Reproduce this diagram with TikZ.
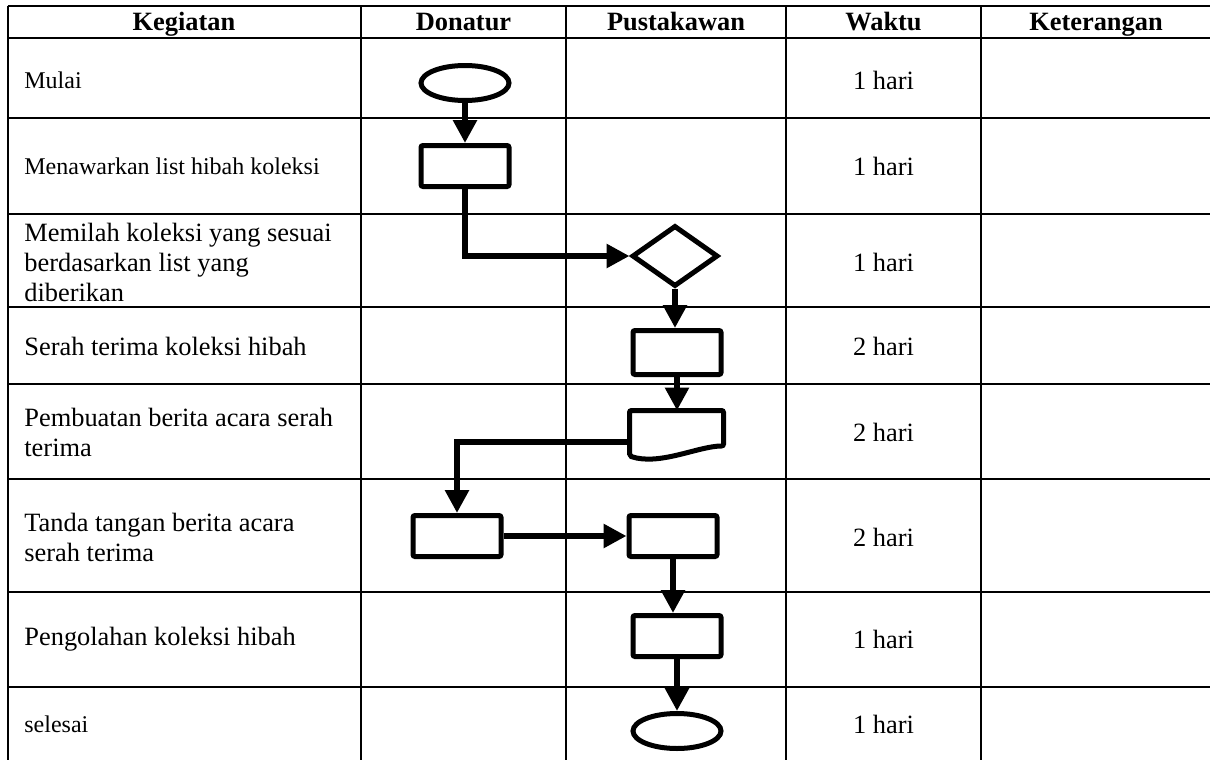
\documentclass[tikz,border=0pt]{standalone}
\usepackage{fontspec}
\setmainfont{Liberation Serif}
\usetikzlibrary{shapes.geometric,arrows.meta}
\newcommand{\hurufbesar}{\fontsize{13.2pt}{15pt}\selectfont}
\newcommand{\hurufkecil}{\fontsize{12pt}{14pt}\selectfont}

\begin{document}
\begin{tikzpicture}[x=0.5pt, y=-0.5pt,
		garis/.style = {line width=1pt},
		judul/.style = {font=\hurufbesar\bfseries, inner sep=0pt, anchor=base},
		isi/.style = {font=\hurufbesar, inner sep=0pt, anchor=west, align=left},
		isikecil/.style = {font=\hurufkecil, inner sep=0pt, anchor=west},
		waktu/.style = {font=\hurufbesar, inner sep=0pt},
		bentuk/.style = {draw, line width=2.5pt, inner sep=0pt, fill=white},
		kotak/.style = {bentuk, rectangle, rounded corners=1pt, minimum width=44pt, minimum height=20.5pt},
		elips/.style = {bentuk, ellipse, minimum width=44pt, minimum height=17.5pt},
		belah/.style = {bentuk, diamond, minimum width=43pt, minimum height=30.5pt},
		panah/.style = {line width=3.2pt, -{Triangle[length=11.5pt, width=11.5pt]}}]
		\useasboundingbox (0,0) rectangle (1210,760);
		
		\foreach \y in {6,38,118,214,307,384,479,592,687}
			\draw[garis] (7.5,\y) -- (1212,\y);
		\foreach \x in {7.5,361,566,786,981}
			\draw[garis] (\x,6) -- (\x,762);
		
		\node[judul] (hKegiatan) at (184,31) {Kegiatan};
		\node[judul] (hDonatur) at (463.5,31) {Donatur};
		\node[judul] (hPustakawan) at (676,31) {Pustakawan};
		\node[judul] (hWaktu) at (883.5,31) {Waktu};
		\node[judul] (hKeterangan) at (1096,31) {Keterangan};
		
		\node[isikecil] (tMulai) at (24,80) {Mulai};
		\node[isikecil] (tTawar) at (24,166) {Menawarkan list hibah koleksi};
		\node[isi] (tPilah) at (24,262) {Memilah koleksi yang sesuai\\berdasarkan list yang\\diberikan};
		\node[isi] (tSerah) at (24,346) {Serah terima koleksi hibah};
		\node[isi] (tBuat) at (24,432) {Pembuatan berita acara serah\\terima};
		\node[isi] (tTanda) at (24,537) {Tanda tangan berita acara\\serah terima};
		\node[isi] (tOlah) at (24,639) {Pengolahan koleksi hibah};
		\node[isikecil] (tSelesai) at (24,724) {selesai};
		
		\foreach \y/\w [count=\i] in {80/1 hari,166/1 hari,262/1 hari,346/2 hari,432/2 hari,537/2 hari,639/1 hari,724/1 hari}
			\node[waktu] (w\i) at (883.5,\y) {\w};
		
		\node[elips] (mulai) at (465,83) {};
		\node[kotak] (tawar) at (465,166) {};
		\node[belah] (pilah) at (675,256) {};
		\node[kotak, minimum height=22pt] (serah) at (677,352.5) {};
		\node[minimum width=47pt, minimum height=22.75pt, inner sep=0pt, outer sep=0pt] (dokumen) at (676.5,433.25) {};
		\draw[line width=2.5pt, rounded corners=1pt] (dokumen.south west) -- (dokumen.north west) -- (dokumen.north east) -- ([yshift=5pt]dokumen.south east) .. controls +(-12.5pt,0pt) and +(15pt,-5pt) .. (dokumen.south west) -- cycle;
		\node[kotak] (tanda) at (457,536) {};
		\node[kotak] (terima) at (673,536) {};
		\node[kotak] (olah) at (677,636) {};
		\node[elips] (selesai) at (677,731) {};
		
		\draw[panah] (mulai) -- (tawar);
		\draw[panah] (tawar.south) |- (pilah.west);
		\draw[panah] (pilah.south) -- (pilah.south |- serah.north);
		\draw[panah] (serah.south) -- (serah.south |- dokumen.north);
		\draw[panah] ([yshift=-4.5pt]dokumen.west) -| (tanda.north);
		\draw[panah] (tanda.east) -- (terima.west);
		\draw[panah] (terima.south) -- (terima.south |- olah.north);
		\draw[panah] (olah.south) -- (olah.south |- selesai.north);
	\end{tikzpicture}
\end{document}
